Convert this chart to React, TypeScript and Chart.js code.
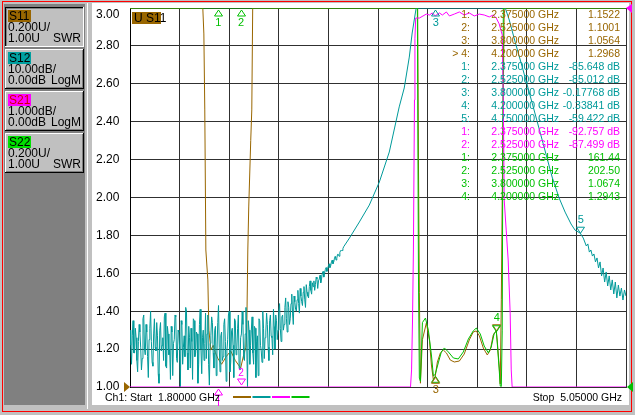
import { useEffect, useRef } from 'react';
import { Chart, registerables } from 'chart.js';

Chart.register(...registerables);

// sweep and display scale (all traces drawn on the S11 SWR grid, 0.2 U/div, ref 1.00 U)
const START_GHZ = 1.8;
const STOP_GHZ = 5.05;
const FREQ_STEP = 0.325;
const Y_MIN = 1.0;
const Y_MAX = 3.0;
const Y_STEP = 0.2;

const BROWN = '#996600';
const TEAL = '#009a9a';
const MAGENTA = '#ff00ff';
const GREEN = '#00c000';
const GRID = '#303030';
const FONT = '"Liberation Sans", Arial, sans-serif';

// S11 (SWR)
const S11_FREQ = [1.8, 2.277, 2.284, 2.29, 2.297, 2.31, 2.317, 2.33, 2.345, 2.36, 2.375, 2.4, 2.43, 2.46, 2.49, 2.525, 2.545, 2.559, 2.565, 2.572, 2.578, 2.591, 2.598, 2.604, 3.685, 3.69, 3.696, 3.703, 3.716, 3.742, 3.762, 3.775, 3.788, 3.8, 3.814, 3.834, 3.853, 3.873, 3.899, 3.925, 3.958, 3.99, 4.023, 4.049, 4.069, 4.089, 4.115, 4.141, 4.161, 4.18, 4.2, 4.206, 4.22, 4.226, 4.233, 4.239, 4.246, 4.252, 5.05];
const S11_VAL = [3.0, 3.0, 2.863, 2.462, 1.723, 1.565, 1.3, 1.195, 1.22, 1.18, 1.152, 1.12, 1.16, 1.19, 1.14, 1.1, 1.17, 1.21, 1.3, 1.723, 1.95, 2.3, 2.462, 3.0, 3.0, 2.2, 1.5, 1.02, 1.25, 1.338, 1.248, 1.116, 1.037, 1.056, 1.132, 1.18, 1.195, 1.18, 1.142, 1.132, 1.137, 1.174, 1.248, 1.29, 1.296, 1.27, 1.206, 1.169, 1.195, 1.274, 1.297, 1.248, 1.1, 1.016, 1.46, 2.0, 2.55, 3.0, 3.0];

// S12 noise floor: readings every 10 MHz from 1.800 GHz (A) and from 1.805 GHz (B)
const S12_NOISE_START = 1.8;
const S12_NOISE_STEP = 0.01;
const S12_NOISE_A = [
  1.30, 1.12, 1.35, 1.18, 1.26, 1.08, 1.33, 1.21, 1.15, 1.38,
  1.17, 1.29, 1.05, 1.31, 1.24, 1.11, 1.36, 1.19, 1.27, 1.02,
  1.34, 1.22, 1.14, 1.39, 1.10, 1.28, 1.20, 1.32, 1.06, 1.25,
  1.37, 1.13, 1.29, 1.00, 1.33, 1.21, 1.16, 1.40, 1.09, 1.26,
  1.31, 1.04, 1.35, 1.18, 1.28, 1.12, 1.41, 1.07, 1.30, 1.23,
  1.15, 1.38, 1.01, 1.27, 1.34, 1.10, 1.32, 1.19, 1.43, 1.08,
  1.29, 1.16, 1.36, 1.03, 1.25, 1.40, 1.13, 1.31, 1.05, 1.35,
  1.20, 1.38, 1.09, 1.28, 1.33, 1.14, 1.42, 1.00, 1.30, 1.22,
  1.37, 1.12, 1.31, 1.24, 1.06, 1.35, 1.19, 1.40, 1.15, 1.29,
  1.33, 1.14, 1.38, 1.26, 1.41, 1.20, 1.35, 1.30, 1.44, 1.24,
  1.38, 1.33, 1.47, 1.29, 1.42, 1.36, 1.49, 1.33, 1.45, 1.40,
  1.51, 1.39, 1.48, 1.43, 1.53, 1.42, 1.50, 1.47, 1.56, 1.49,
  1.53, 1.51, 1.58, 1.52, 1.57, 1.55, 1.60, 1.58, 1.62, 1.61,
  1.64, 1.63, 1.66, 1.65, 1.68, 1.67, 1.70, 1.69, 1.72, 1.72, 1.74,
];
const S12_NOISE_B = [
  1.22, 1.27, 1.18, 1.31, 1.14, 1.24, 1.29, 1.09, 1.36, 1.20,
  1.33, 1.16, 1.25, 1.40, 1.13, 1.28, 1.21, 1.34, 1.07, 1.30,
  1.19, 1.26, 1.37, 1.11, 1.32, 1.17, 1.04, 1.29, 1.23, 1.38,
  1.15, 1.30, 1.21, 1.35, 1.12, 1.27, 1.42, 1.18, 1.32, 1.10,
  1.24, 1.36, 1.16, 1.29, 1.02, 1.33, 1.20, 1.26, 1.14, 1.39,
  1.28, 1.12, 1.23, 1.37, 1.18, 1.30, 1.06, 1.34, 1.21, 1.27,
  1.14, 1.33, 1.24, 1.19, 1.38, 1.08, 1.29, 1.22, 1.36, 1.17,
  1.31, 1.10, 1.26, 1.40, 1.15, 1.28, 1.21, 1.35, 1.12, 1.30,
  1.18, 1.32, 1.05, 1.27, 1.36, 1.22, 1.13, 1.31, 1.26, 1.39,
  1.21, 1.35, 1.27, 1.17, 1.32, 1.38, 1.25, 1.40, 1.31, 1.37,
  1.30, 1.42, 1.36, 1.45, 1.33, 1.44, 1.39, 1.48, 1.41, 1.46,
  1.44, 1.52, 1.45, 1.50, 1.46, 1.54, 1.48, 1.53, 1.51, 1.55,
  1.56, 1.54, 1.57, 1.56, 1.59, 1.57, 1.61, 1.60, 1.63, 1.62,
  1.65, 1.64, 1.67, 1.66, 1.69, 1.68, 1.70, 1.71, 1.72, 1.73,
];
const S12_FREQ = [3.238, 3.303, 3.368, 3.434, 3.499, 3.564, 3.597, 3.63, 3.649, 3.675, 4.259, 4.285, 4.324, 4.37, 4.435, 4.501, 4.566, 4.612, 4.651, 4.69, 4.716, 4.75, 4.77, 4.79, 4.8, 4.81, 4.82, 4.83, 4.84, 4.85, 4.86, 4.87, 4.88, 4.89, 4.9, 4.91, 4.92, 4.93, 4.94, 4.95, 4.96, 4.97, 4.98, 4.99, 5.0, 5.01, 5.02, 5.03, 5.04, 5.05];
const S12_VAL = [1.786, 1.871, 1.96, 2.082, 2.24, 2.478, 2.578, 2.741, 2.868, 3.0, 3.0, 2.937, 2.82, 2.689, 2.499, 2.303, 2.108, 1.997, 1.923, 1.86, 1.828, 1.812, 1.786, 1.744, 1.755, 1.712, 1.723, 1.691, 1.702, 1.66, 1.681, 1.628, 1.66, 1.586, 1.628, 1.554, 1.607, 1.533, 1.586, 1.512, 1.565, 1.491, 1.554, 1.47, 1.538, 1.48, 1.522, 1.459, 1.512, 1.48];

// S21
const S21_FREQ = [1.8, 3.638, 3.645, 3.651, 3.657, 3.664, 3.667, 3.672, 3.696, 3.742, 3.762, 3.781, 3.8, 3.827, 3.847, 3.873, 3.893, 3.925, 3.958, 3.99, 4.023, 4.056, 4.089, 4.121, 4.154, 4.18, 4.2, 4.219, 4.239, 4.246, 4.252, 4.265, 4.278, 4.291, 4.298, 4.304, 5.05];
const S21_VAL = [1.0, 1.0, 1.09, 1.343, 1.723, 2.515, 2.84, 2.947, 2.947, 2.968, 2.963, 2.974, 2.958, 2.974, 2.963, 2.979, 2.958, 2.968, 2.979, 2.963, 2.974, 2.958, 2.968, 2.963, 2.953, 2.963, 2.947, 2.916, 2.858, 2.515, 1.987, 1.828, 1.67, 1.39, 1.09, 1.0, 1.0];

// S22 (SWR)
const S22_FREQ = [1.8, 3.683, 3.69, 3.696, 3.703, 3.716, 3.736, 3.755, 3.775, 3.788, 3.8, 3.82, 3.84, 3.86, 3.886, 3.919, 3.951, 3.984, 4.017, 4.049, 4.069, 4.095, 4.121, 4.148, 4.167, 4.187, 4.2, 4.206, 4.22, 4.226, 4.233, 4.239, 4.246, 5.05];
const S22_VAL = [3.0, 3.0, 1.6, 1.047, 1.03, 1.34, 1.364, 1.3, 1.169, 1.058, 1.067, 1.127, 1.185, 1.206, 1.185, 1.153, 1.148, 1.185, 1.253, 1.296, 1.311, 1.28, 1.216, 1.18, 1.211, 1.285, 1.294, 1.237, 1.08, 1.005, 1.003, 1.3, 3.0, 3.0];

// marker readouts
const MARKER_FREQ = [2.375, 2.525, 3.8, 4.2, 4.75];
const S11_MARKERS = ['1.1522', '1.1001', '1.0564', '1.2968'];
const S12_MARKERS = ['-85.648 dB', '-85.012 dB', '-0.17768 dB', '-0.33841 dB', '-59.422 dB'];
const S21_MARKERS = ['-92.757 dB', '-87.499 dB'];
const S22_MARKERS = ['161.44', '202.50', '1.0674', '1.2943'];

// channel buttons
const TRACE_NAMES = ['S11', 'S12', 'S21', 'S22'];
const TRACE_COLORS = [BROWN, '#00a0a0', MAGENTA, '#00e000'];
const TRACE_NAME_INK = ['#000000', '#000000', '#d00000', '#000000'];
const TRACE_SCALE = ['0.200U/', '10.00dB/', '1.000dB/', '0.200U/'];
const TRACE_REF = ['1.00U', '0.00dB', '0.00dB', '1.00U'];
const TRACE_FORMAT = ['SWR', 'LogM', 'LogM', 'SWR'];

const toPoints = (fs: number[], vs: number[]) => fs.map((f, i) => ({ x: f, y: vs[i] }));
const clampY = (v: number) => Math.min(Y_MAX, Math.max(Y_MIN, v));

function tri(ctx: CanvasRenderingContext2D, x: number, apexY: number, dir: number, color: string) {
  // dir 1: points down (base above apex), -1: points up
  const cx = Math.round(x) + 0.5;
  const by = apexY - 6 * dir;
  ctx.strokeStyle = color;
  ctx.lineWidth = 1;
  ctx.beginPath();
  ctx.moveTo(cx, apexY);
  ctx.lineTo(cx - 4, by);
  ctx.lineTo(cx + 4, by);
  ctx.closePath();
  ctx.stroke();
}

function label(ctx: CanvasRenderingContext2D, text: string, x: number, y: number, color: string, align: CanvasTextAlign = 'center', size = 11) {
  ctx.fillStyle = color;
  ctx.font = `${size}px ${FONT}`;
  ctx.textAlign = align;
  ctx.textBaseline = 'middle';
  ctx.fillText(text, x, y);
}

function drawButton(ctx: CanvasRenderingContext2D, i: number) {
  const x = 5;
  const y = 7 + i * 42;
  const w = 79;
  const h = 40;
  const selected = i === 0;
  ctx.fillStyle = '#c0c0c0';
  ctx.fillRect(x, y, w, h);
  ctx.fillStyle = selected ? '#000000' : '#ffffff';
  ctx.fillRect(x, y, w, 1);
  ctx.fillRect(x, y, 1, h);
  ctx.fillStyle = selected ? '#ffffff' : '#000000';
  ctx.fillRect(x, y + h - 1, w, 1);
  ctx.fillRect(x + w - 1, y, 1, h);
  ctx.fillStyle = '#808080';
  if (selected) {
    ctx.fillRect(x + 1, y + 1, w - 2, 1);
    ctx.fillRect(x + 1, y + 1, 1, h - 2);
  } else {
    ctx.fillRect(x + 1, y + h - 2, w - 2, 1);
    ctx.fillRect(x + w - 2, y + 1, 1, h - 2);
  }
  ctx.fillStyle = TRACE_COLORS[i];
  ctx.fillRect(8, y + 3, 23, 12);
  label(ctx, TRACE_NAMES[i], 9, y + 9.5, TRACE_NAME_INK[i], 'left', 12);
  label(ctx, TRACE_SCALE[i], 8, y + 21, '#000', 'left', 12);
  label(ctx, TRACE_REF[i], 8, y + 32, '#000', 'left', 12);
  label(ctx, TRACE_FORMAT[i], 81, y + 32, '#000', 'right', 12);
}

const vnaPlugin = {
  id: 'vnaScreen',
  beforeDraw(chart: Chart) {
    const ctx = chart.ctx;
    ctx.save();
    ctx.fillStyle = '#c0c0c0';
    ctx.fillRect(0, 0, 635, 415);
    ctx.fillStyle = '#ffffff';
    ctx.fillRect(92, 3, 537, 402);
    ctx.fillRect(87, 3, 1, 406);
    ctx.fillStyle = '#808080';
    ctx.fillRect(4, 4, 81, 401);
    ctx.strokeStyle = '#ff0000';
    ctx.lineWidth = 1;
    ctx.strokeRect(2.5, 1.5, 629, 410);
    for (let i = 0; i < TRACE_NAMES.length; i++) drawButton(ctx, i);
    ctx.restore();
  },
  afterDraw(chart: Chart) {
    const ctx = chart.ctx;
    const xs = chart.scales.x;
    const ys = chart.scales.y;
    const { top, bottom, left, right } = chart.chartArea;
    const mx = (i: number) => xs.getPixelForValue(MARKER_FREQ[i]);
    const my = (v: number) => ys.getPixelForValue(clampY(v));
    ctx.save();

    // top tick label sits below its grid line
    label(ctx, '3.00', 96, top + 7, '#000', 'left', 12);

    // trace title
    ctx.fillStyle = BROWN;
    ctx.fillRect(132, 12, 29, 12);
    label(ctx, 'U S11', 134, 18.5, '#000', 'left', 12);

    // S22 markers 1, 2 (above full scale)
    tri(ctx, mx(0), top + 2, -1, GREEN);
    label(ctx, '1', mx(0) + 0.5, top + 15, GREEN);
    tri(ctx, mx(1), top + 2, -1, GREEN);
    label(ctx, '2', mx(1) + 0.5, top + 15, GREEN);
    // S12 marker 3 (above full scale)
    tri(ctx, mx(2), top + 2, -1, TEAL);
    label(ctx, '3', mx(2) + 0.5, top + 15, TEAL);
    // S21 markers 1, 2 (below bottom)
    tri(ctx, mx(0), bottom + 2, -1, MAGENTA);
    ctx.fillStyle = MAGENTA;
    ctx.fillRect(Math.round(mx(0)), bottom + 8, 1, 11);
    tri(ctx, mx(1), bottom - 2, 1, MAGENTA);
    label(ctx, '2', mx(1) + 0.5, bottom - 14, MAGENTA, 'center', 10);
    // S11 / S22 marker 3
    const m3 = my(parseFloat(S11_MARKERS[2]));
    tri(ctx, mx(2), m3, -1, GREEN);
    tri(ctx, mx(2), m3 + 1, -1, BROWN);
    label(ctx, '3', mx(2) + 0.5, m3 + 14, BROWN);
    // S11 / S22 marker 4
    const m4 = my(parseFloat(S11_MARKERS[3]));
    tri(ctx, mx(3), m4, 1, BROWN);
    tri(ctx, mx(3), m4 + 1, 1, GREEN);
    label(ctx, '4', mx(3) + 0.5, m4 - 13, GREEN);
    // S12 marker 5 (10 dB/div, ref 0 dB at top)
    const m5 = my(Y_MAX + (parseFloat(S12_MARKERS[4]) / 10) * Y_STEP);
    tri(ctx, mx(4), m5, 1, TEAL);
    label(ctx, '5', mx(4) + 0.5, m5 - 13, TEAL);

    // marker readout table
    const rows: [string, number, string, string][] = [];
    S11_MARKERS.forEach((v, i) => rows.push([i === 3 ? '> 4:' : `${i + 1}:`, MARKER_FREQ[i], v, BROWN]));
    S12_MARKERS.forEach((v, i) => rows.push([`${i + 1}:`, MARKER_FREQ[i], v, TEAL]));
    S21_MARKERS.forEach((v, i) => rows.push([`${i + 1}:`, MARKER_FREQ[i], v, MAGENTA]));
    S22_MARKERS.forEach((v, i) => rows.push([`${i + 1}:`, MARKER_FREQ[i], v, GREEN]));
    rows.forEach(([n, f, v, c], i) => {
      const y = 15 + i * 13.0;
      label(ctx, n, 470, y, c, 'right', 10.5);
      label(ctx, `${f.toFixed(6)} GHz`, 559, y, c, 'right', 10.5);
      label(ctx, v, 620, y, c, 'right', 10.5);
    });

    // reference position arrows
    ctx.fillStyle = BROWN;
    ctx.beginPath();
    ctx.moveTo(left - 6, bottom - 5);
    ctx.lineTo(left - 6, bottom + 5);
    ctx.lineTo(left, bottom);
    ctx.closePath();
    ctx.fill();
    ctx.fillStyle = GREEN;
    ctx.beginPath();
    ctx.moveTo(right + 7, bottom - 5);
    ctx.lineTo(right + 7, bottom + 5);
    ctx.lineTo(right + 1, bottom);
    ctx.closePath();
    ctx.fill();
    ctx.fillStyle = MAGENTA;
    ctx.beginPath();
    ctx.moveTo(right + 6, top - 4);
    ctx.lineTo(right + 6, top + 5);
    ctx.lineTo(right, top);
    ctx.closePath();
    ctx.fill();

    // footer
    label(ctx, `Ch1: Start  ${START_GHZ.toFixed(5)} GHz`, 105, 398.5, '#000', 'left', 10.5);
    label(ctx, `Stop  ${STOP_GHZ.toFixed(5)} GHz`, 622, 398.5, '#000', 'right', 10.5);
    [BROWN, TEAL, MAGENTA, GREEN].forEach((c, i) => {
      ctx.fillStyle = c;
      ctx.fillRect(233 + i * 19.5, 396, 18, 2);
    });
    ctx.restore();
  },
};

export default function App() {
  const canvasRef = useRef<HTMLCanvasElement>(null);

  useEffect(() => {
    document.body.style.margin = '0';
    if (!canvasRef.current) return;

    const noise: { x: number; y: number }[] = [];
    S12_NOISE_A.forEach((v, i) => {
      noise.push({ x: S12_NOISE_START + i * S12_NOISE_STEP, y: v });
      if (i < S12_NOISE_B.length) {
        noise.push({ x: S12_NOISE_START + (i + 0.5) * S12_NOISE_STEP, y: S12_NOISE_B[i] });
      }
    });
    const s12Points = [...noise, ...toPoints(S12_FREQ, S12_VAL)];

    const line = (label: string, data: { x: number; y: number }[], color: string) => ({
      label,
      data,
      borderColor: color,
      borderWidth: 1,
      pointRadius: 0,
      tension: 0,
      fill: false,
    });

    const chart = new Chart(canvasRef.current, {
      type: 'line',
      data: {
        datasets: [
          line('S21', toPoints(S21_FREQ, S21_VAL), MAGENTA),
          line('S22', toPoints(S22_FREQ, S22_VAL), GREEN),
          line('S12', s12Points, TEAL),
          line('S11', toPoints(S11_FREQ, S11_VAL), BROWN),
        ],
      },
      options: {
        animation: false,
        responsive: false,
        events: [],
        layout: { padding: { left: 96, right: 9, top: 8, bottom: 28 } },
        plugins: { legend: { display: false }, tooltip: { enabled: false } },
        scales: {
          x: {
            type: 'linear',
            min: START_GHZ,
            max: STOP_GHZ,
            afterFit: (s: any) => {
              s.height = 0;
            },
            ticks: { display: false, stepSize: FREQ_STEP },
            grid: { color: GRID, drawTicks: false },
            border: { color: GRID },
          },
          y: {
            type: 'linear',
            min: Y_MIN,
            max: Y_MAX,
            afterFit: (s: any) => {
              s.width = 34;
            },
            ticks: {
              stepSize: Y_STEP,
              crossAlign: 'far',
              padding: 0,
              color: '#000',
              font: { family: FONT, size: 12 },
              callback: (v: any) => (Number(v) > 2.99 ? '' : Number(v).toFixed(2)),
            },
            grid: { color: GRID, drawTicks: false },
            border: { color: '#000' },
          },
        },
      },
      plugins: [vnaPlugin],
    });

    return () => chart.destroy();
  }, []);

  return <canvas ref={canvasRef} width={635} height={415} style={{ display: 'block' }} />;
}
